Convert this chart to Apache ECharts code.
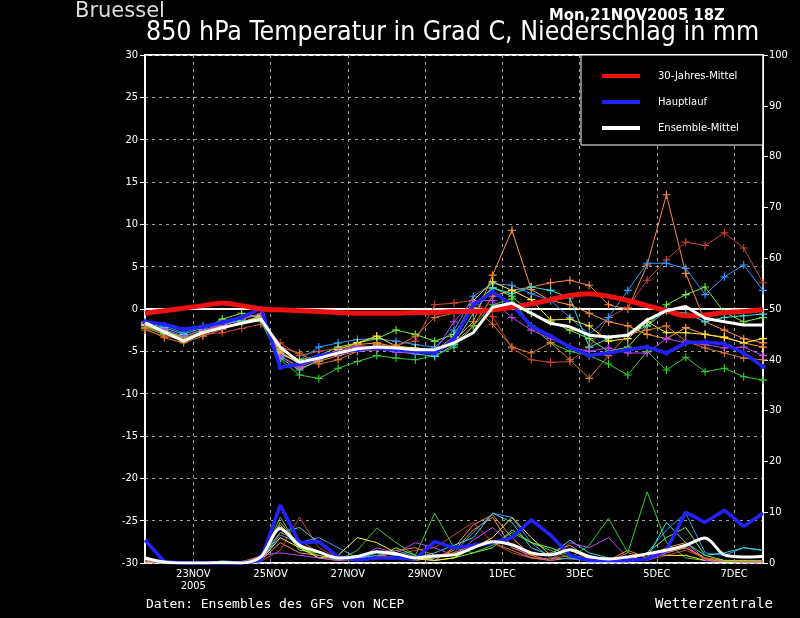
<!DOCTYPE html>
<html>
<head>
<meta charset="utf-8">
<script src="https://cdn.jsdelivr.net/npm/echarts@6/dist/echarts.min.js"></script>
<style>
  html, body { margin: 0; background: #000; }
  #chart { width: 800px; height: 618px; }
</style>
</head>
<body>
<div id="chart"></div>
<script>
// x-Achse: 6-Stunden-Schritte ab Mon 21NOV2005 18Z, Daten alle 12 Stunden
var nSteps = 65;
var tickLabels = ['23NOV\n2005', '25NOV', '27NOV', '29NOV', '1DEC', '3DEC', '5DEC', '7DEC'];
var firstTick = 5;   // 23NOV 00Z
var tickEvery = 8;   // 2 Tage

// 850 hPa Temperatur (Grad C)
var klimaTemp = [-0.5, -0.2, 0.1, 0.4, 0.7, 0.4, 0.0, -0.1, -0.2, -0.3, -0.4, -0.5, -0.5, -0.5, -0.4, -0.4, -0.3,
  -0.3, -0.1, 0.2, 0.6, 1.1, 1.6, 1.8, 1.5, 1.0, 0.4, -0.2, -0.8, -0.7, -0.4, -0.3, -0.1];
var hauptTemp = [-1.5, -1.8, -2.4, -2.1, -1.6, -1.0, 0.1, -6.9, -6.5, -5.5, -5.2, -4.8, -4.6, -4.8, -5.0, -5.2, -3.5,
  0.5, 2.0, 0.5, -2.0, -3.2, -4.5, -5.5, -5.2, -4.8, -4.5, -5.2, -4.0, -3.9, -4.1, -5.2, -6.8];
var mittelTemp = [-1.6, -2.7, -3.8, -2.8, -2.2, -1.7, -1.2, -4.5, -6.3, -5.8, -5.2, -4.7, -4.5, -4.6, -4.8, -4.8, -4.0,
  -2.8, 0.2, 0.7, -0.5, -1.7, -2.1, -3.1, -3.3, -3.1, -1.3, -0.2, 0.3, -1.1, -1.5, -1.9, -1.9];

// Niederschlag (mm)
var hauptRR = [4.5, 0.3, 0, 0, 0, 0, 0.5, 11.4, 4.0, 4.2, 1.2, 0.6, 1.0, 1.0, 0.8, 4.2, 3.0,
  3.5, 4.0, 5.0, 8.5, 5.5, 1.5, 0.5, 0.5, 0.5, 0.8, 2.5, 10.0, 8.0, 10.4, 7.2, 9.8];
var mittelRR = [1.0, 0.2, 0, 0, 0.1, 0, 1.2, 6.8, 3.5, 2.2, 1.0, 1.3, 2.2, 1.8, 1.0, 1.4, 1.6,
  3.0, 4.2, 3.6, 2.0, 1.6, 2.6, 1.3, 0.8, 1.2, 1.8, 2.5, 3.5, 4.9, 1.6, 1.2, 1.3];

// Ensemble-Mitglieder
var memberColors = ['#ff9933', '#ff8844', '#cc4433', '#3399ff', '#33cc33', '#77ee44', '#33dddd', '#ffee33', '#bb44ff', '#dd7733'];
var tempM1 = [-1.8, -2.5, -3.5, -2.6, -2.0, -1.2, -0.6, -5.0, -6.5, -5.8, -5.0, -4.2, -4.0, -4.5, -4.8, -5.0, -3.8,
  -1.5, 4.0, 9.3, 2.3, 1.0, 0.5, -0.5, -1.5, -2.0, -3.0, -3.5, -2.2, -3.0, -3.3, -4.0, -4.5];
var tempM2 = [-2.0, -3.0, -3.8, -2.8, -2.2, -1.5, -1.0, -5.5, -7.0, -6.2, -5.5, -5.0, -4.8, -4.6, -4.9, -5.2, -4.0,
  -2.0, 1.5, 2.2, 2.6, 3.1, 3.4, 2.8, 0.5, 0.0, 5.2, 13.5, 4.2, -1.5, -2.5, -3.5, -4.0];
var tempM3 = [-2.5, -3.2, -3.6, -3.0, -2.8, -2.3, -1.8, -4.0, -5.5, -5.0, -4.6, -4.3, -4.5, -4.2, -3.8, 0.5, 0.7,
  1.0, -0.9, -4.6, -6.0, -6.3, -6.2, -4.5, -1.0, 0.2, 3.4, 5.8, 7.9, 7.5, 9.0, 7.2, 3.1];
var tempM4 = [-1.5, -2.0, -2.8, -2.0, -1.5, -1.0, -0.8, -5.5, -6.0, -4.5, -4.0, -3.6, -3.5, -3.8, -4.2, -4.5, -2.5,
  1.5, 3.0, 2.8, 1.8, 1.0, -1.0, -3.0, -1.0, 2.2, 5.4, 5.4, 4.8, 1.7, 3.8, 5.2, 2.2];
var tempM5 = [-2.2, -3.0, -3.7, -2.5, -1.8, -1.3, -1.5, -6.0, -7.8, -8.2, -7.0, -6.2, -5.5, -5.8, -6.0, -5.5, -4.5,
  -2.0, 0.5, 1.2, -2.0, -4.0, -5.0, -5.5, -6.5, -7.8, -5.0, -7.2, -5.7, -7.4, -7.0, -8.0, -8.4];
var tempM6 = [-1.8, -2.6, -3.3, -2.4, -1.2, -0.5, -1.0, -4.8, -6.0, -5.5, -4.5, -4.0, -3.5, -2.5, -3.0, -3.8, -3.0,
  0.5, 2.5, 1.5, -0.5, -1.5, -2.5, -3.5, -5.0, -4.5, -2.0, 0.5, 1.7, 2.6, -0.4, -1.5, -1.0];
var tempM7 = [-1.6, -2.2, -3.0, -2.2, -1.8, -1.4, -1.2, -5.8, -7.2, -6.0, -5.2, -4.6, -4.4, -5.0, -5.3, -5.6, -4.2,
  -0.5, 2.5, 1.8, 2.6, 2.2, 1.3, -4.5, -3.5, -3.0, -2.0, -0.2, -0.5, -1.5, -1.0, -0.8, -0.6];
var tempM8 = [-1.9, -2.8, -3.6, -2.7, -2.3, -1.6, -0.8, -5.2, -6.4, -5.8, -4.8, -4.0, -3.2, -4.4, -4.6, -4.9, -3.3,
  1.0, 3.2, 2.2, 1.1, -1.3, -1.2, -2.0, -3.8, -3.5, -1.5, -2.8, -2.8, -3.0, -3.4, -4.0, -3.5];
var tempM9 = [-1.7, -2.4, -3.2, -2.5, -1.9, -1.1, -0.6, -5.6, -6.8, -5.9, -5.0, -4.4, -4.7, -5.1, -5.2, -5.0, -1.5,
  1.0, 1.0, -1.0, -2.5, -3.5, -4.5, -5.0, -4.6, -5.2, -5.2, -3.5, -4.0, -4.2, -4.6, -4.5, -5.5];
var tempM10 = [-2.3, -3.4, -4.0, -3.2, -2.4, -1.6, -1.2, -4.5, -5.2, -6.5, -6.0, -5.0, -4.2, -4.5, -3.2, -1.0, -0.5,
  0.2, -1.8, -4.5, -5.2, -4.0, -6.0, -8.2, -5.5, -3.0, -2.5, -2.0, -3.8, -4.6, -5.2, -5.8, -6.0];

var rrM1 = [0.5, 0, 0, 0, 0, 0, 1.0, 8.0, 3.5, 1.0, 0.5, 0.8, 1.5, 1.0, 0.5, 1.0, 2.5, 6.5, 9.0, 3.0, 1.5, 0.5, 1.0, 0.5, 0.3, 0.2, 1.0, 2.0, 3.0, 1.0, 0.5, 0.5, 0.5];
var rrM2 = [0.3, 0, 0, 0, 0, 0.2, 0.5, 4.0, 2.0, 1.5, 0.8, 0.5, 1.2, 2.0, 1.0, 0.5, 3.0, 7.5, 9.5, 5.0, 1.5, 2.0, 3.5, 1.0, 0.5, 2.5, 1.0, 3.0, 4.0, 0.8, 0.5, 0.3, 0.2];
var rrM3 = [0.5, 0.2, 0, 0, 0, 0, 0.3, 2.5, 9.0, 3.0, 1.0, 0.6, 0.8, 1.5, 2.5, 3.0, 5.5, 8.0, 4.0, 2.0, 1.0, 0.5, 2.8, 0.8, 0.5, 0.5, 0.6, 1.5, 2.5, 1.0, 0.3, 0.3, 0.5];
var rrM4 = [1.0, 0.2, 0, 0, 0.3, 0, 0.5, 5.5, 4.0, 5.0, 3.0, 1.0, 1.5, 2.5, 1.2, 1.0, 2.0, 6.0, 9.8, 9.0, 4.0, 1.0, 0.8, 0.5, 0.5, 0.5, 2.0, 6.5, 9.8, 2.0, 1.5, 3.0, 2.5];
var rrM5 = [0.5, 0, 0, 0, 0, 0, 0.5, 9.0, 3.0, 1.5, 0.5, 2.5, 6.9, 4.0, 1.5, 9.8, 3.0, 2.0, 3.5, 6.0, 4.0, 2.5, 1.0, 3.5, 8.8, 2.0, 14.0, 4.0, 1.0, 0.5, 0.5, 0.3, 0.3];
var rrM6 = [0.3, 0, 0, 0, 0, 0, 0.8, 7.5, 2.5, 2.0, 1.0, 0.5, 1.0, 3.0, 1.5, 0.5, 1.0, 2.0, 3.0, 6.5, 4.0, 3.0, 1.5, 1.0, 0.5, 0.5, 2.0, 5.0, 7.0, 1.5, 0.5, 0.5, 0.5];
var rrM7 = [0.8, 0, 0, 0, 0.4, 0.2, 0.5, 6.0, 7.0, 4.0, 1.0, 0.8, 2.0, 1.5, 1.0, 2.0, 3.5, 5.0, 9.8, 8.0, 3.0, 1.5, 4.5, 2.0, 1.0, 0.5, 1.0, 8.0, 4.0, 1.5, 2.0, 3.0, 2.5];
var rrM8 = [0.2, 0, 0, 0, 0, 0, 0.5, 5.0, 3.0, 1.0, 1.5, 5.0, 4.0, 2.0, 0.8, 0.5, 1.0, 3.0, 5.0, 9.0, 5.0, 1.5, 2.5, 1.0, 0.5, 0.5, 2.0, 1.5, 1.5, 0.5, 0.3, 0.2, 0.3];
var rrM9 = [0.3, 0, 0, 0, 0, 0, 1.5, 2.0, 1.5, 1.0, 0.5, 0.8, 3.0, 2.0, 4.0, 3.0, 1.5, 4.5, 7.0, 3.5, 1.0, 0.5, 4.0, 3.0, 5.0, 1.0, 0.5, 2.0, 3.5, 0.5, 0.3, 0.2, 0.2];
var rrM10 = [0.5, 0, 0, 0, 0, 0.3, 1.2, 6.0, 4.5, 2.0, 1.0, 0.5, 1.0, 2.5, 3.0, 1.5, 2.0, 3.5, 4.0, 2.5, 1.0, 0.8, 1.5, 0.6, 0.3, 2.0, 1.0, 3.0, 3.0, 0.8, 0.3, 0.3, 0.4];

var memberTemps = [tempM1, tempM2, tempM3, tempM4, tempM5, tempM6, tempM7, tempM8, tempM9, tempM10];
var memberRRs = [rrM1, rrM2, rrM3, rrM4, rrM5, rrM6, rrM7, rrM8, rrM9, rrM10];

var myChart = echarts.init(document.getElementById('chart'));

// 12h-Werte auf 6h-Kategorien legen
function toXY(arr) {
    return arr.map(function (v, i) { return [2 * i, v]; });
}
function isTick(idx) {
    return idx >= firstTick && (idx - firstTick) % tickEvery === 0;
}

var categories = [];
for (var k = 0; k < nSteps; k++) {
    categories.push(isTick(k) ? tickLabels[(k - firstTick) / tickEvery] : '');
}

// gefuelltes Kreuz als Marker
var plus = 'path://M3,0h1v3h3v1h-3v3h-1v-3h-3v-1h3z';
var series = [];

memberTemps.forEach(function (t, m) {
    var c = memberColors[m];
    series.push({
        name: 'T' + (m + 1), type: 'line', yAxisIndex: 0, data: toXY(t),
        symbol: plus, symbolSize: 8, showSymbol: true, showAllSymbol: true,
        itemStyle: { color: c },
        lineStyle: { color: c, width: 1 }, z: 2
    });
});
memberRRs.forEach(function (r, m) {
    var c = memberColors[m];
    series.push({
        name: 'RR' + (m + 1), type: 'line', yAxisIndex: 1, data: toXY(r),
        showSymbol: false, lineStyle: { color: c, width: 1 }, z: 2
    });
});

series.push({
    name: 'Hauptlauf', type: 'line', yAxisIndex: 0, data: toXY(hauptTemp),
    symbol: 'circle', symbolSize: 5, showAllSymbol: true, itemStyle: { color: '#2222ff' },
    lineStyle: { color: '#2222ff', width: 3.5 }, z: 3
});
series.push({
    name: 'Hauptlauf RR', type: 'line', yAxisIndex: 1, data: toXY(hauptRR),
    showSymbol: false, itemStyle: { color: '#2222ff' },
    lineStyle: { color: '#2222ff', width: 3.5 }, z: 3
});
series.push({
    name: '30-Jahres-Mittel', type: 'line', yAxisIndex: 0, data: toXY(klimaTemp),
    showSymbol: false, smooth: 0.3, itemStyle: { color: '#ee1111' },
    lineStyle: { color: '#ee1111', width: 5 }, z: 4
});
series.push({
    name: 'Ensemble-Mittel', type: 'line', yAxisIndex: 0, data: toXY(mittelTemp),
    showSymbol: false, itemStyle: { color: '#ffffff' },
    lineStyle: { color: '#ffffff', width: 3 }, z: 5
});
series.push({
    name: 'Ensemble-Mittel RR', type: 'line', yAxisIndex: 1, data: toXY(mittelRR),
    showSymbol: false, smooth: 0.3, itemStyle: { color: '#ffffff' },
    lineStyle: { color: '#ffffff', width: 3 }, z: 5
});

var gridLine = { show: true, lineStyle: { color: '#a0a0a0', type: [3, 4], width: 1 } };
var labelFont = { color: '#fff', fontSize: 11, fontFamily: 'DejaVu Sans Condensed' };

var option = {
    backgroundColor: '#000',
    animation: false,
    title: [
        { text: 'Bruessel', left: 70, top: -4, textStyle: { color: '#dddddd', fontSize: 21, fontWeight: 'normal', fontFamily: 'DejaVu Sans' } },
        { text: 'Mon,21NOV2005 18Z', left: 544, top: 2, textStyle: { color: '#fff', fontSize: 16.5, fontWeight: 'bold', fontFamily: 'DejaVu Sans Condensed' } },
        { text: '850 hPa Temperatur in Grad C, Niederschlag in mm', left: 141, top: 15, textStyle: { color: '#fff', fontSize: 26.5, fontWeight: 'normal', fontFamily: 'DejaVu Sans Condensed' } },
        { text: 'Daten: Ensembles des GFS von NCEP', left: 141, top: 593, textStyle: { color: '#fff', fontSize: 13, fontWeight: 'normal', fontFamily: 'DejaVu Sans Mono' } },
        { text: 'Wetterzentrale', left: 650, top: 592, textStyle: { color: '#fff', fontSize: 14, fontWeight: 'normal', fontFamily: 'DejaVu Sans Mono' } }
    ],
    legend: {
        data: [
            { name: '30-Jahres-Mittel', icon: 'rect' },
            { name: 'Hauptlauf', icon: 'rect' },
            { name: 'Ensemble-Mittel', icon: 'rect' }
        ],
        orient: 'vertical', left: 581, top: 55,
        backgroundColor: '#000', borderColor: '#fff', borderWidth: 1, borderRadius: 0,
        padding: [16, 24, 12, 21], itemWidth: 38, itemHeight: 4, itemGap: 16,
        selectedMode: false,
        textStyle: { color: '#fff', fontSize: 10, fontFamily: 'DejaVu Sans', padding: [0, 0, 0, 13] }
    },
    grid: { left: 145, right: 37, top: 55, bottom: 55, show: true, borderColor: '#fff', borderWidth: 2, backgroundColor: '#000' },
    xAxis: {
        type: 'category', data: categories, boundaryGap: false,
        axisLine: { lineStyle: { color: '#fff', width: 2 } },
        axisTick: { show: false },
        axisLabel: Object.assign({ interval: isTick, margin: 5, lineHeight: 12 }, labelFont),
        splitLine: Object.assign({ interval: isTick }, gridLine)
    },
    yAxis: [
        {
            type: 'value', min: -30, max: 30, interval: 5, position: 'left',
            axisLine: { show: true, lineStyle: { color: '#fff', width: 2 } },
            axisTick: { show: true, length: 5, lineStyle: { color: '#fff' } },
            axisLabel: Object.assign({ margin: 7 }, labelFont),
            splitLine: gridLine
        },
        {
            type: 'value', min: 0, max: 100, interval: 10, position: 'right',
            axisLine: { show: true, lineStyle: { color: '#fff', width: 2 } },
            axisTick: { show: true, length: 5, lineStyle: { color: '#fff' } },
            axisLabel: Object.assign({ margin: 6 }, labelFont),
            splitLine: { show: false }
        }
    ],
    series: series
};

myChart.setOption(option);
</script>
</body>
</html>
